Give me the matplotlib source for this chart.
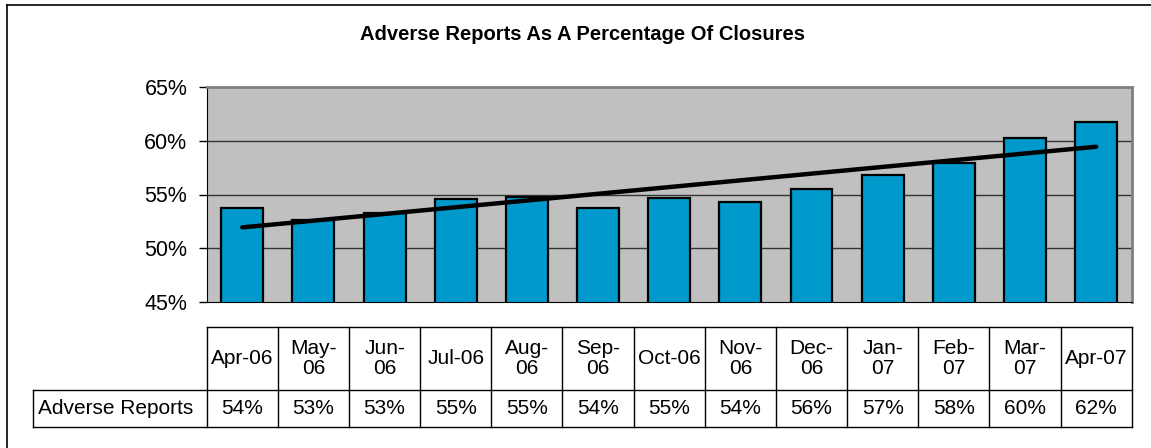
import numpy as np
import matplotlib
matplotlib.use("Agg")
import matplotlib.pyplot as plt
from matplotlib.lines import Line2D
from matplotlib.transforms import blended_transform_factory

plt.rcParams['font.family'] = ['Liberation Sans', 'DejaVu Sans']

title = "Adverse Reports As A Percentage Of Closures"
series_name = "Adverse Reports"
months = ["Apr-06", "May-\n06", "Jun-\n06", "Jul-06", "Aug-\n06", "Sep-\n06", "Oct-06",
          "Nov-\n06", "Dec-\n06", "Jan-\n07", "Feb-\n07", "Mar-\n07", "Apr-07"]
values = [53.7, 52.6, 53.3, 54.6, 54.8, 53.7, 54.7, 54.3, 55.5, 56.8, 57.9, 60.3, 61.8]
y_ticks = [45, 50, 55, 60, 65]

W, H = 1151, 448
fig = plt.figure(figsize=(W / 100, H / 100), dpi=100)
fig.patch.set_facecolor("white")

# plot area in pixel coords
left, right, top, bottom = 206.7, 1131.7, 87.3, 301.7
ax = fig.add_axes([left / W, 1 - bottom / H, (right - left) / W, (bottom - top) / H])
ax.set_facecolor("#C0C0C0")

x = np.arange(len(values))
ax.bar(x, values, width=0.59, bottom=0, color="#0099CC", edgecolor="black", linewidth=1.6, zorder=3)

# linear trendline
slope, icpt = np.polyfit(x, values, 1)
ax.plot([x[0], x[-1]], [icpt, icpt + slope * x[-1]], color="black", linewidth=3.2,
        solid_capstyle="round", zorder=4)

ax.set_xlim(-0.5, len(values) - 0.5)
ax.set_ylim(45, 65)
ax.set_yticks(y_ticks)
ax.set_yticklabels([f"{t}%" for t in y_ticks], fontsize=15.5)
ax.tick_params(axis="y", length=6, width=1, pad=8, colors="black", direction="out")
ax.set_xticks([])
for t in y_ticks[1:-1]:
    ax.axhline(t, color="#333333", linewidth=1, zorder=1)

ax.spines["left"].set_color("black")
ax.spines["bottom"].set_color("black")
ax.spines["top"].set_color("#808080")
ax.spines["right"].set_color("#808080")
ax.spines["top"].set_linewidth(2)
ax.spines["right"].set_linewidth(2)

# data table below the chart, columns tied to the category axis
tr = blended_transform_factory(ax.transData, ax.transAxes)
def ya(px):
    return (bottom - px) / (bottom - top)

y_top, y_mid, y_bot = ya(326.7), ya(390), ya(426.7)
x_lab = -0.5 - (left - 33.3) / ((right - left) / len(values))
line_kw = dict(color="black", linewidth=1, transform=tr, clip_on=False)
ax.add_line(Line2D([-0.5, len(values) - 0.5], [y_top, y_top], **line_kw))
ax.add_line(Line2D([x_lab, len(values) - 0.5], [y_mid, y_mid], **line_kw))
ax.add_line(Line2D([x_lab, len(values) - 0.5], [y_bot, y_bot], **line_kw))
ax.add_line(Line2D([x_lab, x_lab], [y_mid, y_bot], **line_kw))
for b in np.arange(-0.5, len(values)):
    ax.add_line(Line2D([b, b], [y_top, y_bot], **line_kw))

for i, (m, v) in enumerate(zip(months, values)):
    ax.text(i, (y_top + y_mid) / 2, m, ha="center", va="center", fontsize=15,
            linespacing=1.05, transform=tr, clip_on=False)
    ax.text(i, (y_mid + y_bot) / 2, f"{v:.0f}%", ha="center", va="center", fontsize=15,
            transform=tr, clip_on=False)
ax.text(x_lab + 0.07, (y_mid + y_bot) / 2, series_name, ha="left", va="center", fontsize=15,
        transform=tr, clip_on=False)

fig.text(582 / W, 1 - 35 / H, title, ha="center", va="center", fontsize=14.5, fontweight="bold")

# chart frame (left and top edges visible)
fig.add_artist(Line2D([7 / W, 7 / W], [0, 1 - 5 / H], color="black", linewidth=1.2))
fig.add_artist(Line2D([7 / W, 1], [1 - 5 / H, 1 - 5 / H], color="black", linewidth=1.2))

fig.savefig("out.png", dpi=100)
